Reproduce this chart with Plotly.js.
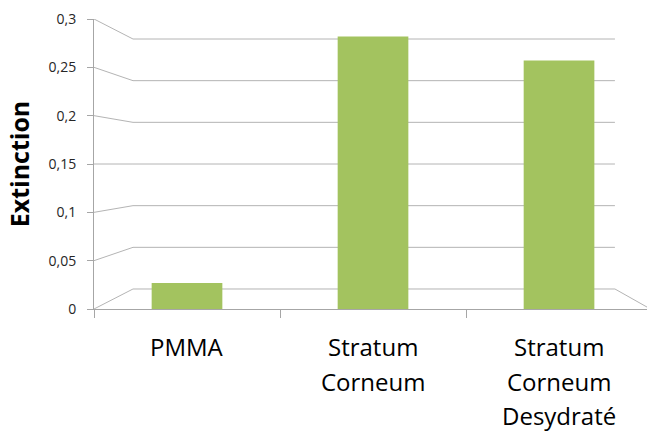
<!DOCTYPE html>
<html>
<head>
<meta charset="utf-8">
<script src="https://cdn.plot.ly/plotly-3.0.1.min.js"></script>
<style>html,body{margin:0;padding:0;background:#fff;}#chart{width:647px;height:436px;}</style>
</head>
<body>
<div id="chart"></div>
<script>
// ---- data ----
var categories = ['PMMA', 'Stratum<br>Corneum', 'Stratum<br>Corneum<br>Desydraté'];
var extinction = [0.027, 0.282, 0.257];
var yTicks = [0, 0.05, 0.1, 0.15, 0.2, 0.25, 0.3];
var yTickLabels = ['0', '0,05', '0,1', '0,15', '0,2', '0,25', '0,3'];
var yTitle = 'Extinction';

// ---- styling / layout helpers ----
var FONT = 'Open Sans, sans-serif';
var gridColor = '#b4b4b4';
var axisColor = '#a6a6a6';
var backLeft = 0.0705, backRight = 0.942;   // back wall edges (paper x)
function backY(v) { return 0.0207 + 0.862 * v; } // perspective depth of the back wall

var shapes = [];
yTicks.forEach(function (v) {
  shapes.push({type: 'line', xref: 'paper', yref: 'y', x0: 0, y0: v, x1: backLeft, y1: backY(v),
               line: {color: gridColor, width: 1}, layer: 'below'});
  shapes.push({type: 'line', xref: 'paper', yref: 'y', x0: backLeft, y0: backY(v), x1: backRight, y1: backY(v),
               line: {color: gridColor, width: 1}, layer: 'below'});
});
shapes.push({type: 'line', xref: 'paper', yref: 'y', x0: backRight, y0: backY(0), x1: 1, y1: 0.002,
             line: {color: gridColor, width: 1}, layer: 'below'});

var annotations = [];
categories.forEach(function (c) {
  c.split('<br>').forEach(function (line, i) {
    annotations.push({x: c, xref: 'x', y: 0, yref: 'paper', yanchor: 'top', xanchor: 'center',
                      yshift: -19 - i * 34.5, showarrow: false, text: line,
                      font: {family: FONT, size: 24, color: '#000'}});
  });
});

var trace = {
  type: 'bar', x: categories, y: extinction, width: 0.38,
  marker: {color: '#a3c35f', line: {width: 0}},
  hoverinfo: 'x+y'
};

var layout = {
  width: 647, height: 436,
  margin: {l: 94, r: 0, t: 19, b: 127},
  paper_bgcolor: '#fff', plot_bgcolor: 'rgba(0,0,0,0)',
  showlegend: false,
  font: {family: FONT, color: '#000'},
  xaxis: {
    type: 'category', range: [-0.5, 2.473],
    showticklabels: false, tickson: 'boundaries', ticks: 'outside', ticklen: 8,
    tickcolor: axisColor, showline: true, linecolor: axisColor, linewidth: 1,
    showgrid: false, zeroline: false, fixedrange: true
  },
  yaxis: {
    range: [0, 0.3], tickmode: 'array', tickvals: yTicks, ticktext: yTickLabels,
    ticks: 'outside', ticklen: 6, tickcolor: axisColor, ticklabelstandoff: 8,
    tickfont: {family: FONT, size: 14, color: '#262626'},
    showline: true, linecolor: axisColor, linewidth: 1,
    showgrid: false, zeroline: false, fixedrange: true,
    title: {text: yTitle, standoff: 11, font: {family: FONT, size: 25, color: '#000', weight: 'bold'}}
  },
  shapes: shapes,
  annotations: annotations
};

Plotly.newPlot('chart', [trace], layout, {displayModeBar: false, staticPlot: true});
</script>
</body>
</html>
